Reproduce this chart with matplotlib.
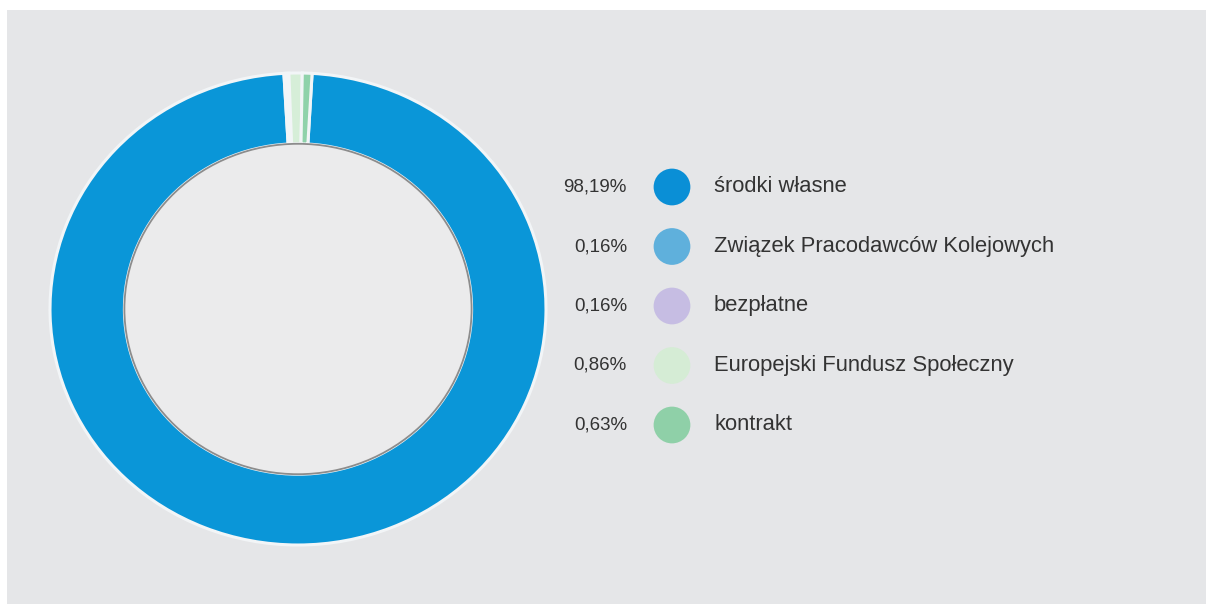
import matplotlib.pyplot as plt
from matplotlib.patches import Rectangle, Circle

plt.rcParams['font.family'] = ['Liberation Sans', 'DejaVu Sans']

# data
labels = ['środki własne', 'Związek Pracodawców Kolejowych', 'bezpłatne',
          'Europejski Fundusz Społeczny', 'kontrakt']
shares = [98.19, 0.16, 0.16, 0.86, 0.63]
pct_text = ['98,19%', '0,16%', '0,16%', '0,86%', '0,63%']
colors = ['#0a96d8', '#5db2de', '#c7bfe4', '#d6eed8', '#8fd2aa']
legend_dots = ['#0a8fd6', '#5fb0dc', '#c6bde3', '#d5ecd5', '#8fd0a8']

W, H = 1206, 604
fig = plt.figure(figsize=(W / 100, H / 100), dpi=100)
fig.patch.set_facecolor('white')

# full-figure axes in pixel coords for panel + legend
ax = fig.add_axes([0, 0, 1, 1])
ax.set_xlim(0, W)
ax.set_ylim(H, 0)
ax.axis('off')
ax.add_patch(Rectangle((7, 10), W, H, facecolor='#e5e6e8', edgecolor='none', zorder=0))

# ring
left, right, top, bottom = 50, 546, 73, 545
pax = fig.add_axes([left / W, (H - bottom) / H, (right - left) / W, (bottom - top) / H])
small = sum(shares[1:]) / sum(shares) * 360
pax.pie(shares, colors=colors, startangle=90 - small / 2, counterclock=False,
        radius=1, wedgeprops=dict(width=0.30, edgecolor='#f2f5f7', linewidth=2.2))
pax.add_patch(Circle((0, 0), 0.70, facecolor='#ebebec', edgecolor='#8c8c8c',
                     linewidth=1.3, zorder=5))
pax.set_aspect('auto')
pax.set_xlim(-1, 1)
pax.set_ylim(-1, 1)
pax.axis('off')

# legend
y0, dy = 187, 59.5
for i, (lab, pt, c) in enumerate(zip(labels, pct_text, legend_dots)):
    y = y0 + i * dy
    ax.text(627, y, pt, ha='right', va='center', fontsize=13.5, color='#333333')
    ax.scatter([672], [y], s=700, color=c, edgecolors='none', zorder=3)
    ax.text(714, y, lab, ha='left', va='center', fontsize=15.8, color='#333333')

plt.savefig('out.png', dpi=100)
